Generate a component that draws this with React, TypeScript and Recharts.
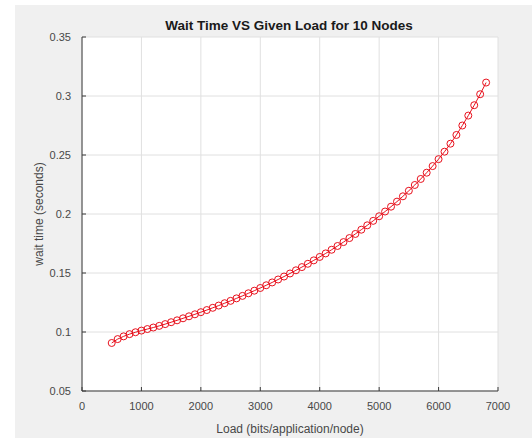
import React from "react";
import { LineChart, Line, XAxis, YAxis, CartesianGrid } from "recharts";

// Load (bits/application/node)
const loads = [
  500, 600, 700, 800, 900, 1000, 1100, 1200, 1300, 1400, 1500, 1600, 1700, 1800, 1900, 2000,
  2100, 2200, 2300, 2400, 2500, 2600, 2700, 2800, 2900, 3000, 3100, 3200, 3300, 3400, 3500, 3600,
  3700, 3800, 3900, 4000, 4100, 4200, 4300, 4400, 4500, 4600, 4700, 4800, 4900, 5000, 5100, 5200,
  5300, 5400, 5500, 5600, 5700, 5800, 5900, 6000, 6100, 6200, 6300, 6400, 6500, 6600, 6700, 6800,
];

// wait time (seconds)
const waitTimes = [
  0.0907, 0.094, 0.0963, 0.0982, 0.0998, 0.1012, 0.1025, 0.1038, 0.1052, 0.1067, 0.1083, 0.1099,
  0.1116, 0.1133, 0.115, 0.1168, 0.1186, 0.1205, 0.1224, 0.1244, 0.1264, 0.1285, 0.1306, 0.1328,
  0.135, 0.1373, 0.1396, 0.142, 0.1445, 0.147, 0.1496, 0.1523, 0.155, 0.1578, 0.1607, 0.1636,
  0.1666, 0.1697, 0.1729, 0.1762, 0.1796, 0.1831, 0.1867, 0.1904, 0.1942, 0.1981, 0.2021, 0.2062,
  0.2105, 0.215, 0.2197, 0.2246, 0.2297, 0.235, 0.2406, 0.2465, 0.2528, 0.2596, 0.267, 0.275,
  0.2834, 0.2922, 0.3015, 0.3114,
];

const xTicks = [0, 1000, 2000, 3000, 4000, 5000, 6000, 7000];
const yTicks = [0.05, 0.1, 0.15, 0.2, 0.25, 0.3, 0.35];

const title = "Wait Time VS Given Load for 10 Nodes";
const xLabel = "Load (bits/application/node)";
const yLabel = "wait time (seconds)";

const FONT = '"Liberation Sans", Arial, Helvetica, sans-serif';
const AXIS = "#3a3a3a";
const TEXT = "#484848";
const RED = "#e8101c";

const chartData = loads.map((load, i) => ({ load, wait: waitTimes[i] }));

function XTick(props: any) {
  const { x, y, payload } = props;
  return (
    <g>
      <line x1={x} x2={x} y1={y} y2={y - 4} stroke={AXIS} />
      <text x={x} y={y + 19} textAnchor="middle" fontSize={11} fill={TEXT} fontFamily={FONT}>
        {payload.value}
      </text>
    </g>
  );
}

function YTick(props: any) {
  const { x, y, payload } = props;
  return (
    <g>
      <line x1={x} x2={x + 4} y1={y} y2={y} stroke={AXIS} />
      <text x={x - 11} y={y + 4} textAnchor="end" fontSize={11} fill={TEXT} fontFamily={FONT}>
        {String(Number(payload.value.toFixed(2)))}
      </text>
    </g>
  );
}

export default function App() {
  return (
    <div style={{ position: "absolute", left: 0, top: 0, width: 532, height: 438, background: "#fff" }}>
      <div style={{ position: "absolute", left: 15, top: 5, right: 0, bottom: 0, background: "#f0f0f0" }} />
      <svg width={532} height={438} style={{ position: "absolute", left: 0, top: 0 }}>
        <text x={289} y={30} textAnchor="middle" fontSize={13.5} fontWeight="bold" fill="#1a1a1a" fontFamily={FONT}>
          {title}
        </text>
      </svg>
      <div style={{ position: "absolute", left: 0, top: 0 }}>
        <LineChart width={532} height={438} data={chartData} margin={{ top: 37, right: 34, bottom: 7, left: 22 }}>
          <CartesianGrid stroke="#e0e0e0" fill="#ffffff" />
          <XAxis
            dataKey="load"
            type="number"
            domain={[0, 7000]}
            ticks={xTicks}
            height={40}
            stroke={AXIS}
            tickLine={false}
            tickSize={0}
            tickMargin={0}
            tick={<XTick />}
            label={() => (
              <text x={290} y={433} textAnchor="middle" fontSize={12} fill={TEXT} fontFamily={FONT}>
                {xLabel}
              </text>
            )}
          />
          <YAxis
            type="number"
            domain={[0.05, 0.35]}
            ticks={yTicks}
            width={60}
            stroke={AXIS}
            tickLine={false}
            tickSize={0}
            tickMargin={0}
            tick={<YTick />}
            label={() => (
              <text
                x={43}
                y={214}
                textAnchor="middle"
                fontSize={12}
                fill={TEXT}
                fontFamily={FONT}
                transform="rotate(-90 43 214)"
              >
                {yLabel}
              </text>
            )}
          />
          <Line
            dataKey="wait"
            type="linear"
            stroke={RED}
            strokeWidth={1}
            dot={{ r: 3.5, stroke: RED, strokeWidth: 1, fill: "none" }}
            isAnimationActive={false}
          />
        </LineChart>
      </div>
    </div>
  );
}
